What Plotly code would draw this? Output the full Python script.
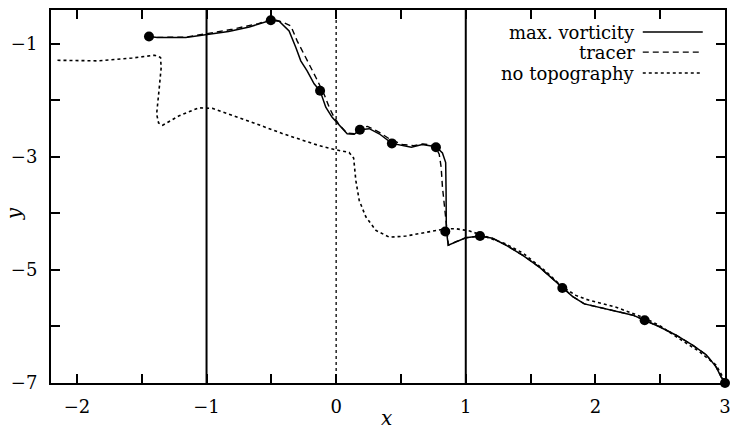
import plotly.graph_objects as go

# ---- data ----
vort_x = [-1.444, -1.38, -1.16, -1.0, -0.83, -0.67, -0.504, -0.44, -0.363, -0.311, -0.273, -0.224,
          -0.170, -0.124, -0.08, -0.031, 0.023, 0.085, 0.139, 0.183, 0.255, 0.332, 0.43, 0.51,
          0.58, 0.664, 0.77, 0.82, 0.845, 0.848, 0.85, 0.865, 0.924, 1.0, 1.11, 1.207, 1.31,
          1.44, 1.568, 1.68, 1.745, 1.825, 1.915, 2.03, 2.16, 2.29, 2.38, 2.49, 2.62, 2.75,
          2.855, 2.93, 2.97, 3.0]
vort_y = [-0.87, -0.885, -0.885, -0.84, -0.78, -0.70, -0.58, -0.60, -0.77, -1.065, -1.30, -1.476,
          -1.705, -1.83, -2.12, -2.30, -2.44, -2.59, -2.60, -2.52, -2.50, -2.59, -2.76, -2.80,
          -2.83, -2.78, -2.82, -2.93, -3.10, -3.6, -4.3, -4.56, -4.50, -4.43, -4.40, -4.44, -4.56,
          -4.74, -4.95, -5.18, -5.32, -5.47, -5.60, -5.66, -5.73, -5.80, -5.89, -6.00, -6.15, -6.33,
          -6.50, -6.71, -6.89, -7.0]

tracer_x = [-1.38, -1.16, -1.0, -0.80, -0.6, -0.49, -0.417, -0.35, -0.30, -0.234, -0.157, -0.093,
            -0.054, -0.02, 0.023, 0.085, 0.139, 0.19, 0.242, 0.33, 0.41, 0.51, 0.60, 0.67, 0.76,
            0.795, 0.81, 0.82, 0.84, 0.847, 0.86, 0.865, 0.924, 1.0, 1.11, 1.207, 1.31, 1.44,
            1.568, 1.68, 1.745, 1.825, 1.915, 2.03, 2.16, 2.29, 2.38, 2.49, 2.62, 2.75, 2.855,
            2.93, 2.97, 3.0]
tracer_y = [-0.885, -0.88, -0.82, -0.74, -0.64, -0.565, -0.61, -0.68, -0.95, -1.24, -1.59, -1.89,
            -2.12, -2.28, -2.43, -2.58, -2.59, -2.48, -2.46, -2.56, -2.68, -2.78, -2.80, -2.77, -2.80,
            -2.95, -3.18, -3.53, -3.89, -4.12, -4.40, -4.56, -4.50, -4.43, -4.40, -4.44, -4.56, -4.74,
            -4.95, -5.18, -5.32, -5.47, -5.60, -5.66, -5.73, -5.80, -5.89, -6.00, -6.15, -6.33, -6.50,
            -6.71, -6.89, -7.0]

notopo_x = [-2.15, -1.83, -1.575, -1.40, -1.355, -1.35, -1.367, -1.385, -1.37, -1.34, -1.21, -1.06,
            -0.955, -0.80, -0.67, -0.41, -0.21, -0.131, 0.0, 0.10, 0.135, 0.152, 0.178, 0.229,
            0.307, 0.41, 0.538, 0.693, 0.847, 0.924, 1.03, 1.13, 1.30, 1.44, 1.62, 1.745, 1.85,
            1.93, 2.16, 2.37, 2.50, 2.65, 2.80, 2.93, 2.98, 3.0]
notopo_y = [-1.29, -1.30, -1.25, -1.20, -1.24, -1.42, -1.83, -2.24, -2.40, -2.44, -2.27, -2.13,
            -2.14, -2.26, -2.37, -2.59, -2.74, -2.80, -2.875, -2.92, -3.02, -3.42, -3.77, -4.06,
            -4.30, -4.42, -4.40, -4.33, -4.27, -4.27, -4.31, -4.39, -4.53, -4.70, -5.03, -5.30, -5.45,
            -5.52, -5.66, -5.84, -5.99, -6.22, -6.44, -6.68, -6.88, -7.0]

dots_x = [-1.444, -0.504, -0.124, 0.183, 0.43, 0.77, 0.842, 1.11, 1.745, 2.38, 3.0]
dots_y = [-0.87, -0.58, -1.83, -2.52, -2.76, -2.83, -4.32, -4.40, -5.32, -5.89, -7.0]

vlines_solid = [-1, 1]
vlines_dotted = [0]

x_tickvals = [-2, -1.5, -1, -0.5, 0, 0.5, 1, 1.5, 2, 2.5, 3]
x_ticktext = ["\u22122", "", "\u22121", "", "0", "", "1", "", "2", "", "3"]
y_tickvals = [-7, -6, -5, -4, -3, -2, -1]
y_ticktext = ["\u22127", "", "\u22125", "", "\u22123", "", "\u22121"]

legend_names = ["max. vorticity", "tracer", "no topography"]
legend_dash = ["solid", "6px,4px", "dot"]

FONT = "DejaVu Serif"

fig = go.Figure()
fig.add_trace(go.Scatter(x=notopo_x, y=notopo_y, mode="lines",
                         line=dict(color="black", width=1.6, dash="dot"), showlegend=False))
fig.add_trace(go.Scatter(x=tracer_x, y=tracer_y, mode="lines",
                         line=dict(color="black", width=1.4, dash="6px,4px"), showlegend=False))
fig.add_trace(go.Scatter(x=vort_x, y=vort_y, mode="lines",
                         line=dict(color="black", width=1.5), showlegend=False))
fig.add_trace(go.Scatter(x=dots_x, y=dots_y, mode="markers",
                         marker=dict(color="black", size=10), showlegend=False, cliponaxis=False))

shapes = []
for v in vlines_solid:
    shapes.append(dict(type="line", xref="x", yref="paper", x0=v, x1=v, y0=0, y1=1,
                       line=dict(color="black", width=2)))
for v in vlines_dotted:
    shapes.append(dict(type="line", xref="x", yref="paper", x0=v, x1=v, y0=0, y1=1,
                       line=dict(color="black", width=1.3, dash="dot")))

annotations = []
leg_y = [0.941, 0.887, 0.831]
for name, dash, ly in zip(legend_names, legend_dash, leg_y):
    annotations.append(dict(text=name, xref="paper", yref="paper", x=0.869, y=ly,
                            xanchor="right", yanchor="middle", showarrow=False,
                            font=dict(family=FONT, size=18, color="black")))
    shapes.append(dict(type="line", xref="paper", yref="paper", x0=0.878, x1=0.967,
                       y0=ly, y1=ly, line=dict(color="black", width=1.4, dash=dash)))

annotations.append(dict(text="<i>x</i>", xref="paper", yref="paper", x=0.498, y=-0.095,
                        xanchor="center", yanchor="middle", showarrow=False,
                        font=dict(family=FONT, size=20, color="black")))
annotations.append(dict(text="<i>y</i>", xref="paper", yref="paper", x=-0.055, y=0.455,
                        xanchor="center", yanchor="middle", showarrow=False, textangle=-90,
                        font=dict(family=FONT, size=20, color="black")))

axis_common = dict(showline=True, linecolor="black", linewidth=2, mirror="allticks",
                   ticks="inside", ticklen=9, tickwidth=2, tickcolor="black",
                   showgrid=False, zeroline=False, automargin=False,
                   ticklabeloverflow="allow",
                   tickfont=dict(family=FONT, size=18, color="black"))

fig.update_layout(
    width=731, height=433,
    margin=dict(l=51, r=6, t=10, b=50, autoexpand=False),
    paper_bgcolor="white", plot_bgcolor="white",
    xaxis=dict(range=[-2.2, 3.0], tickmode="array", tickvals=x_tickvals, ticktext=x_ticktext,
               ticklabelstandoff=6, **axis_common),
    yaxis=dict(range=[-7.0, -0.4], tickmode="array", tickvals=y_tickvals, ticktext=y_ticktext,
               ticklabelstandoff=8, **axis_common),
    shapes=shapes, annotations=annotations,
)

fig.write_html("out.html")
